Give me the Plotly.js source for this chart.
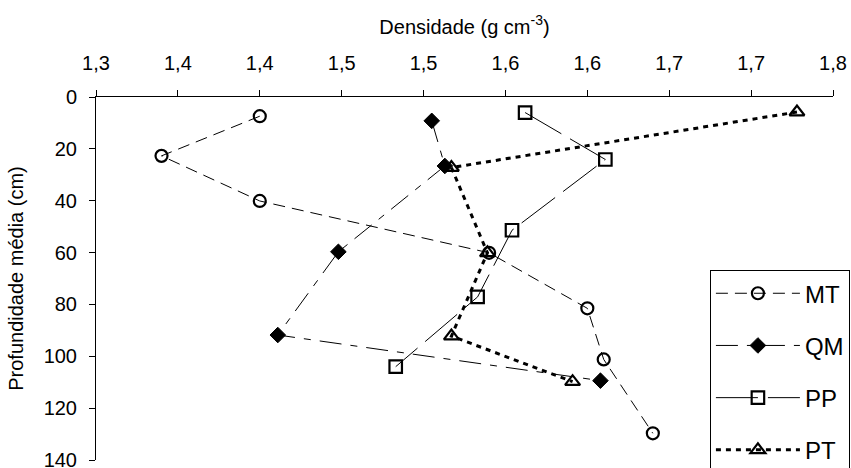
<!DOCTYPE html>
<html>
<head>
<meta charset="utf-8">
<script src="https://cdn.plot.ly/plotly-3.0.1.min.js"></script>
<style>
  html, body { margin: 0; padding: 0; background: #fff; }
  #chart { width: 851px; height: 468px; }
</style>
</head>
<body>
<div id="chart"></div>
<script>
// Bulk density (g cm-3) by mean soil depth (cm) for four land uses
const mtDensity = [1.40, 1.34, 1.40, 1.54, 1.60, 1.61, 1.64];
const mtDepth   = [7.4, 22.7, 40.1, 60.1, 81.5, 101.2, 129.7];

const qmDensity = [1.505, 1.513, 1.448, 1.411, 1.608];
const qmDepth   = [9.2, 26.6, 59.7, 91.8, 109.4];

const ppDensity = [1.562, 1.611, 1.554, 1.533, 1.483];
const ppDepth   = [6.0, 24.1, 51.4, 77.1, 104.0];

const ptDensity = [1.728, 1.517, 1.539, 1.517, 1.591];
const ptDepth   = [5.8, 27.2, 60.1, 92.2, 109.8];

// Density axis ticks every 0.05, labelled with one decimal place
const densityTicks  = [1.30, 1.35, 1.40, 1.45, 1.50, 1.55, 1.60, 1.65, 1.70, 1.75];
const densityLabels = ["1,3", "1,4", "1,4", "1,5", "1,5", "1,6", "1,6", "1,7", "1,7", "1,8"];
const depthTicks    = [0, 20, 40, 60, 80, 100, 120, 140];

const FONT = "Liberation Sans, Arial, sans-serif";

function series(name, x, y, symbol, dash, width, size, lineW) {
  return {
    type: "scatter",
    mode: "lines+markers",
    name: name,
    legendgroup: name,
    x: x,
    y: y,
    line: { color: "#000", width: width, dash: dash },
    marker: { symbol: symbol, size: size, color: "#000", line: { color: "#000", width: lineW } },
    cliponaxis: false
  };
}

const traces = [
  series("MT", mtDensity, mtDepth, "circle-open", "12px,7px", 1, 12, 2.2),
  series("QM", qmDensity, qmDepth, "diamond", "22px,9px,7px,9px", 1, 12, 1),
  series("PP", ppDensity, ppDepth, "square-open", "42px,10px", 1, 12.5, 2.2),
  series("PT", ptDensity, ptDepth, "triangle-up-open", "5px,5px", 3, 13, 2.2)
];

const layout = {
  width: 851,
  height: 468,
  margin: { l: 96, r: 18, t: 97, b: 8, autoexpand: false },
  paper_bgcolor: "#fff",
  plot_bgcolor: "#fff",
  font: { family: FONT, size: 20, color: "#000" },
  showlegend: true,
  xaxis: {
    side: "top",
    range: [1.30, 1.75],
    tickmode: "array",
    tickvals: densityTicks,
    ticktext: densityLabels,
    ticks: "outside",
    ticklen: 6,
    tickcolor: "#000",
    ticklabelstandoff: 12,
    ticklabeloverflow: "allow",
    showline: true,
    linecolor: "#000",
    linewidth: 1,
    showgrid: false,
    zeroline: false,
    automargin: false,
    tickfont: { family: FONT, size: 20, color: "#000" },
    title: { text: "Densidade (g cm<sup>-3</sup>)", font: { family: FONT, size: 20, color: "#000" }, standoff: 12 }
  },
  yaxis: {
    range: [140, 0],
    tickmode: "array",
    tickvals: depthTicks,
    ticks: "outside",
    ticklen: 6,
    tickcolor: "#000",
    ticklabelstandoff: 8,
    ticklabeloverflow: "allow",
    showline: true,
    linecolor: "#000",
    linewidth: 1,
    showgrid: false,
    zeroline: false,
    automargin: false,
    tickfont: { family: FONT, size: 20, color: "#000" },
    title: { text: "Profundidade média (cm)", font: { family: FONT, size: 20, color: "#000" }, standoff: 14 }
  },
  legend: {
    x: 0.833,
    y: 0.523,
    xanchor: "left",
    yanchor: "top",
    bgcolor: "#fff",
    bordercolor: "#000",
    borderwidth: 1,
    font: { family: FONT, size: 24, color: "#000" },
    tracegroupgap: 18,
    itemwidth: 84
  }
};

Plotly.newPlot("chart", traces, layout, { displayModeBar: false, staticPlot: true });
</script>
</body>
</html>
